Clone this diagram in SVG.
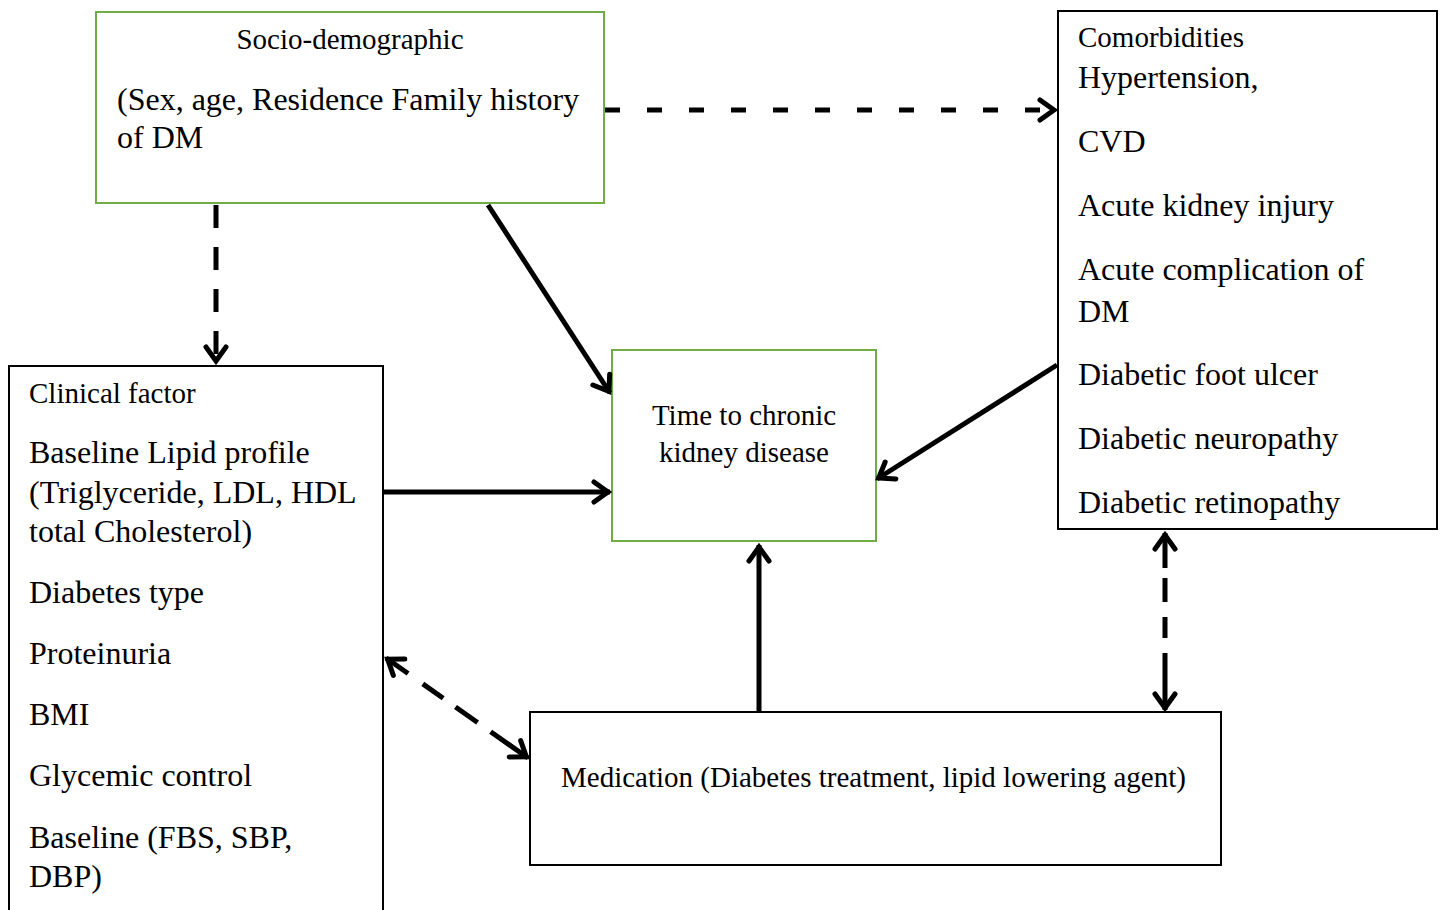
<svg xmlns="http://www.w3.org/2000/svg" width="1442" height="910" viewBox="0 0 1442 910">
<style>
.box{fill:#fff;stroke-width:2}
.g{stroke:#70AD47}
.k{stroke:#000}
text{font-family:"Liberation Serif","Times New Roman",serif;fill:#000}
.big{font-size:32px}
.sm{font-size:29px}
.c{stroke:#000;stroke-width:5;fill:none}
</style>
<defs>
<marker id="ah" markerUnits="userSpaceOnUse" markerWidth="40" markerHeight="40" viewBox="-30 -20 40 40" refX="0" refY="0" orient="auto-start-reverse" overflow="visible">
<path d="M -16 -10 L -2 0 L -16 10" fill="none" stroke="#000" stroke-width="5" stroke-dasharray="none" stroke-linecap="round" stroke-linejoin="miter"/>
</marker>
</defs>
<rect width="1442" height="910" fill="#fff"/>

<g id="socio">
<rect class="box g" x="96" y="12" width="508" height="191"/>
<text class="sm" x="350" y="49" text-anchor="middle">Socio-demographic</text>
<text class="big" x="117" y="110">(Sex, age, Residence Family history</text>
<text class="big" x="117" y="148">of DM</text>
</g>

<g id="comorbidities">
<rect class="box k" x="1058" y="11" width="379" height="518"/>
<text class="sm" x="1078" y="47">Comorbidities</text>
<text class="big" x="1078" y="88">Hypertension,</text>
<text class="big" x="1078" y="152">CVD</text>
<text class="big" x="1078" y="216">Acute kidney injury</text>
<text class="big" x="1078" y="280">Acute complication of</text>
<text class="big" x="1078" y="322">DM</text>
<text class="big" x="1078" y="385">Diabetic foot ulcer</text>
<text class="big" x="1078" y="449">Diabetic neuropathy</text>
<text class="big" x="1078" y="513">Diabetic retinopathy</text>
</g>

<g id="clinical">
<rect class="box k" x="9" y="366" width="374" height="560"/>
<text class="sm" x="29" y="403">Clinical factor</text>
<text class="big" x="29" y="463">Baseline Lipid profile</text>
<text class="big" x="29" y="503">(Triglyceride, LDL, HDL</text>
<text class="big" x="29" y="542">total Cholesterol)</text>
<text class="big" x="29" y="603">Diabetes type</text>
<text class="big" x="29" y="664">Proteinuria</text>
<text class="big" x="29" y="725">BMI</text>
<text class="big" x="29" y="786">Glycemic control</text>
<text class="big" x="29" y="848">Baseline (FBS, SBP,</text>
<text class="big" x="29" y="887">DBP)</text>
</g>

<g id="outcome">
<rect class="box g" x="612" y="350" width="264" height="191"/>
<text class="sm" x="744" y="425" text-anchor="middle">Time to chronic</text>
<text class="sm" x="744" y="462" text-anchor="middle">kidney disease</text>
</g>

<g id="medication">
<rect class="box k" x="530" y="712" width="691" height="153"/>
<text class="sm" x="561" y="787">Medication (Diabetes treatment, lipid lowering agent)</text>
</g>

<g id="connectors">
<line class="c" x1="605" y1="110" x2="1056" y2="110" stroke-dasharray="15 27" marker-end="url(#ah)"/>
<line class="c" x1="216" y1="205" x2="216" y2="363" stroke-dasharray="23 19" marker-end="url(#ah)"/>
<line class="c" x1="488" y1="205" x2="610" y2="393" marker-end="url(#ah)"/>
<line class="c" x1="384" y1="492" x2="610" y2="492" marker-end="url(#ah)"/>
<line class="c" x1="1057" y1="365" x2="877" y2="479" marker-end="url(#ah)"/>
<line class="c" x1="759" y1="712" x2="759" y2="545" marker-end="url(#ah)"/>
<line class="c" x1="1165" y1="533" x2="1165" y2="710" stroke-dasharray="35 10 24 15 21 15 60" marker-start="url(#ah)" marker-end="url(#ah)"/>
<line class="c" x1="386" y1="658" x2="528" y2="758" stroke-dasharray="27 18 25 15 27 16 60" marker-start="url(#ah)" marker-end="url(#ah)"/>
</g>
</svg>
